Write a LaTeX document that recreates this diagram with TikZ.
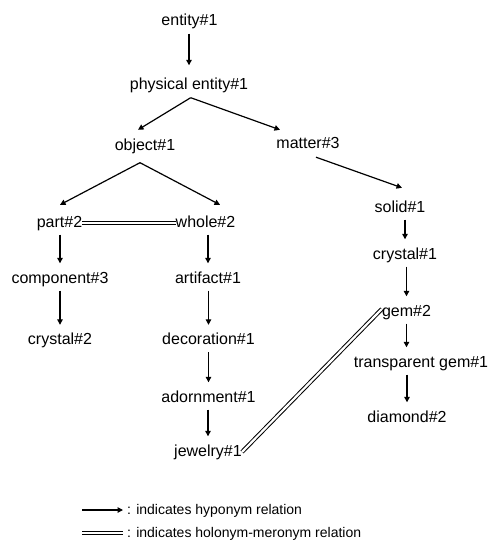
\documentclass[tikz,border=0pt]{standalone}
\usepackage{fontspec}
\setmainfont{Liberation Sans}
\usetikzlibrary{arrows.meta}

\begin{document}
\begin{tikzpicture}[x=1pt,y=-1pt,
  word/.style={anchor=base,inner sep=0pt,text height=11.5pt,text depth=3.5pt,
    font=\fontsize{16}{19}\selectfont},
  legend/.style={anchor=base west,inner sep=0pt,font=\fontsize{14}{17}\selectfont},
  hypo/.style={line width=1.2pt,-{Triangle[length=5.5pt,width=5.5pt]},
    shorten <=4pt,shorten >=8pt},
  branch/.style={line width=1.2pt,-{Triangle[length=5.5pt,width=5.5pt]}},
  holo/.style={double,line width=1pt,double distance=2.2pt}]
  \useasboundingbox (0,0) rectangle (490,540);
  % synsets
  \node[word] (e1) at (189.5,26) {entity\#1};
  \node[word] (phys) at (189,90) {physical entity\#1};
  \node[word] (obj) at (145,151) {object\#1};
  \node[word] (matter) at (308,149) {matter\#3};
  \node[word] (part) at (59.5,227) {part\#2};
  \node[word] (whole) at (205.5,227) {whole\#2};
  \node[word] (solid) at (400,212) {solid\#1};
  \node[word] (comp) at (60,283) {component\#3};
  \node[word] (artif) at (208,283) {artifact\#1};
  \node[word] (cryst1) at (405,259) {crystal\#1};
  \node[word] (cryst2) at (60,344.5) {crystal\#2};
  \node[word] (decor) at (208.5,344.5) {decoration\#1};
  \node[word] (gem) at (406.5,316) {gem\#2};
  \node[word] (transp) at (421,367) {transparent gem\#1};
  \node[word] (adorn) at (208.5,402) {adornment\#1};
  \node[word] (diam) at (407,422) {diamond\#2};
  \node[word] (jewel) at (208,456) {jewelry\#1};
  % hyponym links
  \draw[hypo,shorten >=13pt] (phys.north |- e1.south) -- (phys.north);
  \draw[branch] ([xshift=1.7pt,yshift=-4pt]phys.south) -- ([xshift=-7pt,yshift=9.5pt]obj.north);
  \draw[branch] ([xshift=1.7pt,yshift=-4pt]phys.south) -- ([xshift=-28pt,yshift=7.5pt]matter.north);
  \draw[branch] ([xshift=-5pt,yshift=-8pt]obj.south) -- ([xshift=0.5pt,yshift=10.5pt]part.north);
  \draw[branch] ([xshift=-5pt,yshift=-8pt]obj.south) -- ([xshift=14.5pt,yshift=10.5pt]whole.north);
  \draw[branch] ([xshift=8pt,yshift=-4.5pt]matter.south) -- ([xshift=2pt,yshift=12.5pt]solid.north);
  \draw[hypo] (comp.north |- part.south) -- (comp.north);
  \draw[hypo] (artif.north |- whole.south) -- (artif.north);
  \draw[hypo] (cryst2.north |- comp.south) -- (cryst2.north);
  \draw[hypo] (decor.north |- artif.south) -- (decor.north);
  \draw[hypo] (adorn.north |- decor.south) -- (adorn.north);
  \draw[hypo] (jewel.north |- adorn.south) -- (jewel.north);
  \draw[hypo] (cryst1.north |- solid.south) -- (cryst1.north);
  \draw[hypo] (gem.north |- cryst1.south) -- (gem.north);
  \draw[hypo] (gem.south) -- (gem.south |- transp.north);
  \draw[hypo] (diam.north |- transp.south) -- (diam.north);
  % holonym-meronym links
  \draw[holo] (part.east) -- (whole.west);
  \draw[holo] ([yshift=3pt]gem.west) -- (jewel.east);
  % legend
  \node[legend] (leg1) at (127,514) {: indicates hyponym relation};
  \node[legend] (leg2) at (127,537) {: indicates holonym-meronym relation};
  \coordinate (l1) at (82,510);
  \coordinate (l2) at (82,533);
  \draw[hypo,shorten <=0pt,shorten >=4pt] (l1) -- (l1 -| leg1.west);
  \draw[holo,shorten >=4pt] (l2) -- (l2 -| leg2.west);
\end{tikzpicture}
\end{document}
